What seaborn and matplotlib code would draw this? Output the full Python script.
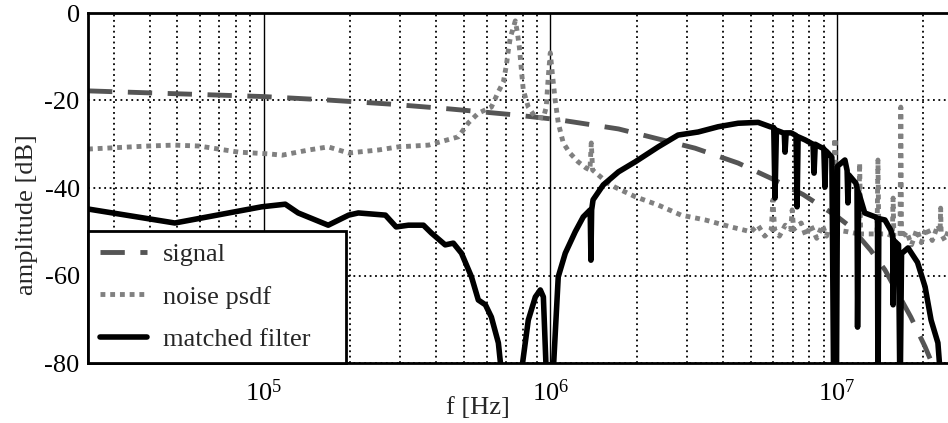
import matplotlib
matplotlib.use("Agg")
import matplotlib.pyplot as plt
import matplotlib.ticker as ticker
import pandas as pd
import seaborn as sns

# frequency [Hz] / amplitude [dB]
SIGNAL_F = [2.44e4, 1.0e5, 1.68e5, 2.73e5, 4.41e5, 7.55e5, 1.07e6, 1.73e6, 3.2e6, 4.52e6,
            5.9e6, 7.62e6, 1.0e7, 1.12e7, 1.31e7, 1.47e7, 1.81e7, 2.03e7, 2.16e7, 2.3e7]
SIGNAL_DB = [-17.8, -19.1, -19.9, -20.8, -21.9, -23.3, -24.4, -26.5, -30.9, -34.3,
             -37.8, -41.5, -46.5, -49.0, -54.2, -58.7, -69.5, -76.3, -80.5, -86.0]

NOISE_F = [2.44e4, 3.97e4, 4.86e4, 5.94e4, 8.18e4, 1.04e5, 1.16e5, 1.44e5, 1.68e5, 1.98e5,
           2.52e5, 2.95e5, 3.76e5, 4.78e5, 5.18e5, 5.61e5, 6.23e5, 6.59e5, 6.86e5, 7.03e5,
           7.14e5, 7.26e5, 7.43e5, 7.55e5, 7.67e5, 7.80e5, 7.93e5, 8.05e5, 8.38e5, 8.87e5,
           9.46e5, 9.68e5, 9.84e5, 1.0e6, 1.016e6, 1.04e6, 1.066e6, 1.11e6, 1.17e6, 1.25e6,
           1.33e6, 1.375e6, 1.39e6, 1.405e6, 1.47e6, 1.59e6, 1.68e6, 1.98e6, 2.38e6, 2.86e6,
           3.47e6, 4.27e6, 5.01e6, 5.3e6, 5.6e6, 5.9e6, 5.98e6, 6.06e6, 6.3e6, 6.6e6,
           6.9e6, 6.98e6, 7.06e6, 7.5e6, 7.8e6, 8.1e6, 8.5e6, 8.9e6, 9.2e6, 9.3e6,
           9.76e6, 9.84e6, 9.92e6, 1.09e7, 1.19e7, 1.2e7, 1.21e7, 1.3e7, 1.38e7, 1.39e7,
           1.4e7, 1.5e7, 1.56e7, 1.57e7, 1.58e7, 1.63e7, 1.66e7, 1.67e7, 1.68e7, 1.75e7,
           1.82e7, 1.9e7, 1.97e7, 2.05e7, 2.15e7, 2.25e7, 2.29e7, 2.30e7, 2.31e7, 2.38e7,
           2.44e7]
NOISE_DB = [-31.1, -30.4, -30.2, -30.4, -31.8, -32.2, -32.5, -31.3, -30.6, -32.0,
            -31.3, -30.6, -30.2, -28.3, -25.1, -22.9, -21.5, -18.0, -15.8, -11.9,
            -8.5, -5.5, -3.4, -1.8, -4.3, -7.8, -13.0, -17.6, -21.5, -23.8,
            -24.0, -21.5, -14.6, -9.1, -13.7, -19.9, -25.1, -29.7, -32.0, -34.0,
            -35.4, -35.9, -29.7, -35.9, -37.0, -38.9, -39.8, -42.0, -43.9, -46.2,
            -47.3, -48.9, -50.0, -48.5, -51.0, -49.5, -42.7, -49.5, -51.0, -48.5,
            -49.5, -45.0, -49.5, -48.0, -51.0, -48.5, -51.5, -48.5, -51.0, -49.6,
            -49.6, -28.6, -49.6, -50.0, -50.5, -34.3, -50.5, -50.5, -50.5, -33.6,
            -50.5, -50.5, -51.0, -42.3, -51.0, -51.0, -51.0, -21.5, -51.5, -50.0,
            -53.0, -49.5, -52.5, -49.0, -52.0, -48.5, -50.0, -44.6, -50.5, -52.0,
            -50.0]

FILTER_F = [2.44e4, 4.9e4, 9.84e4, 1.19e5, 1.32e5, 1.68e5, 1.98e5, 2.14e5, 2.66e5, 2.90e5,
            3.20e5, 3.61e5, 3.85e5, 4.30e5, 4.59e5, 4.90e5, 5.31e5, 5.61e5, 5.94e5, 6.23e5,
            6.59e5, 6.75e5, 7.3e5, 7.93e5, 8.38e5, 8.87e5, 9.23e5, 9.46e5, 9.68e5, 9.9e5,
            1.024e6, 1.066e6, 1.128e6, 1.222e6, 1.303e6, 1.378e6, 1.386e6, 1.394e6, 1.41e6, 1.53e6,
            1.73e6, 1.98e6, 2.38e6, 2.79e6, 3.28e6, 3.85e6, 4.52e6, 5.31e6, 5.85e6, 6.02e6,
            6.08e6, 6.15e6, 6.38e6, 6.55e6, 6.59e6, 6.65e6, 6.92e6, 7.2e6, 7.26e6, 7.32e6,
            7.74e6, 8.25e6, 8.32e6, 8.4e6, 8.73e6, 9.0e6, 9.08e6, 9.15e6, 9.31e6, 9.6e6,
            9.75e6, 9.85e6, 9.95e6, 1.005e7, 1.066e7, 1.085e7, 1.092e7, 1.1e7, 1.164e7, 1.175e7,
            1.18e7, 1.19e7, 1.25e7, 1.36e7, 1.385e7, 1.39e7, 1.4e7, 1.47e7, 1.54e7, 1.565e7,
            1.57e7, 1.58e7, 1.64e7, 1.66e7, 1.68e7, 1.77e7, 1.91e7, 2.03e7, 2.13e7, 2.25e7,
            2.29e7, 2.44e7]
FILTER_DB = [-44.8, -48.0, -44.3, -43.7, -45.7, -48.5, -46.2, -45.7, -46.2, -48.9,
             -48.5, -48.5, -50.3, -53.0, -52.6, -54.9, -60.3, -65.6, -66.7, -69.5,
             -75.4, -82.0, -100.0, -82.0, -70.2, -64.9, -63.3, -64.9, -82.0, -100.0,
             -82.0, -60.3, -54.9, -50.0, -46.6, -45.0, -56.5, -45.0, -42.7, -39.3,
             -36.3, -34.0, -30.6, -27.9, -27.2, -26.0, -25.2, -25.0, -26.0, -26.2,
             -42.3, -26.8, -27.2, -27.5, -31.8, -27.4, -27.4, -28.0, -44.3, -28.3,
             -29.0, -30.0, -36.6, -30.0, -30.6, -31.0, -39.8, -31.5, -32.0, -33.0,
             -90.0, -38.0, -90.0, -35.0, -33.6, -36.0, -43.4, -37.0, -38.9, -40.0,
             -71.8, -41.0, -45.7, -46.6, -47.0, -90.0, -47.0, -47.3, -49.6, -51.0,
             -66.7, -52.0, -53.0, -90.0, -55.0, -53.7, -57.0, -62.6, -70.2, -75.4,
             -82.0, -90.0]

SERIES_LABELS = ["signal", "noise psdf", "matched filter"]
X_TICKS = [1e5, 1e6, 1e7]
X_TICK_LABELS = [r"$10^{5}$", r"$10^{6}$", r"$10^{7}$"]
Y_TICKS = [-80, -60, -40, -20, 0]
Y_TICK_LABELS = ["-80", "-60", "-40", "-20", "0"]

sns.set_theme(style="white")
plt.rcParams["font.family"] = ["Liberation Serif", "DejaVu Serif"]
plt.rcParams["mathtext.fontset"] = "custom"
plt.rcParams["mathtext.rm"] = "Liberation Serif"
plt.rcParams["mathtext.it"] = "Liberation Serif:italic"
plt.rcParams["axes.unicode_minus"] = False

signal = pd.DataFrame({"f": SIGNAL_F, "db": SIGNAL_DB})
noise = pd.DataFrame({"f": NOISE_F, "db": NOISE_DB})
mfilter = pd.DataFrame({"f": FILTER_F, "db": FILTER_DB})

fig = plt.figure(figsize=(9.48, 4.23), dpi=100)
ax = fig.add_axes([88 / 948, 60 / 423, 860 / 948, 350 / 423])

sns.lineplot(data=signal, x="f", y="db", ax=ax, sort=False, estimator=None,
             color="#555555", linewidth=3.5, linestyle=(0, (5, 3.2)), label=SERIES_LABELS[0])
sns.lineplot(data=noise, x="f", y="db", ax=ax, sort=False, estimator=None,
             color="#808080", linewidth=3.5, linestyle=(0, (1, 1)), label=SERIES_LABELS[1])
sns.lineplot(data=mfilter, x="f", y="db", ax=ax, sort=False, estimator=None,
             color="black", linewidth=4, label=SERIES_LABELS[2])

ax.set_xscale("log")
ax.set_xlim(2.44e4, 2.44e7)
ax.set_ylim(-80, 0)
ax.set_xticks(X_TICKS)
ax.set_xticklabels(X_TICK_LABELS)
ax.xaxis.set_minor_locator(ticker.LogLocator(base=10, subs=range(2, 10), numticks=20))
ax.xaxis.set_minor_formatter(ticker.NullFormatter())
ax.set_yticks(Y_TICKS)
ax.set_yticklabels(Y_TICK_LABELS)

ax.set_axisbelow(True)
ax.grid(which="major", axis="x", color="black", linewidth=1.0, linestyle="-")
ax.grid(which="minor", axis="x", color="black", linewidth=1.3, linestyle=(0, (1, 2)))
ax.grid(which="major", axis="y", color="black", linewidth=1.3, linestyle=(0, (1, 2)))

ax.tick_params(axis="both", which="both", length=0, labelsize=19, colors="black")
ax.tick_params(axis="y", pad=6)
ax.tick_params(axis="x", pad=12)

for side in ["top", "left", "bottom"]:
    ax.spines[side].set_linewidth(2)
    ax.spines[side].set_color("black")
ax.spines["right"].set_visible(False)

ax.set_xlabel("f [Hz]", fontsize=19)
ax.set_ylabel("amplitude [dB]", fontsize=19)
ax.xaxis.set_label_coords(0.4535, -0.097)
ax.yaxis.set_label_coords(-0.058, 0.423)

leg = ax.legend(loc="lower left", bbox_to_anchor=(0, 0, 258 / 860, 133 / 350), mode="expand",
                borderaxespad=0, fontsize=19, handlelength=1.8, handletextpad=0.6,
                labelspacing=0.72, borderpad=0.45, fancybox=False, framealpha=1,
                edgecolor="black")
leg.get_frame().set_linewidth(2)

plt.savefig("out.png", dpi=100)
plt.close()
